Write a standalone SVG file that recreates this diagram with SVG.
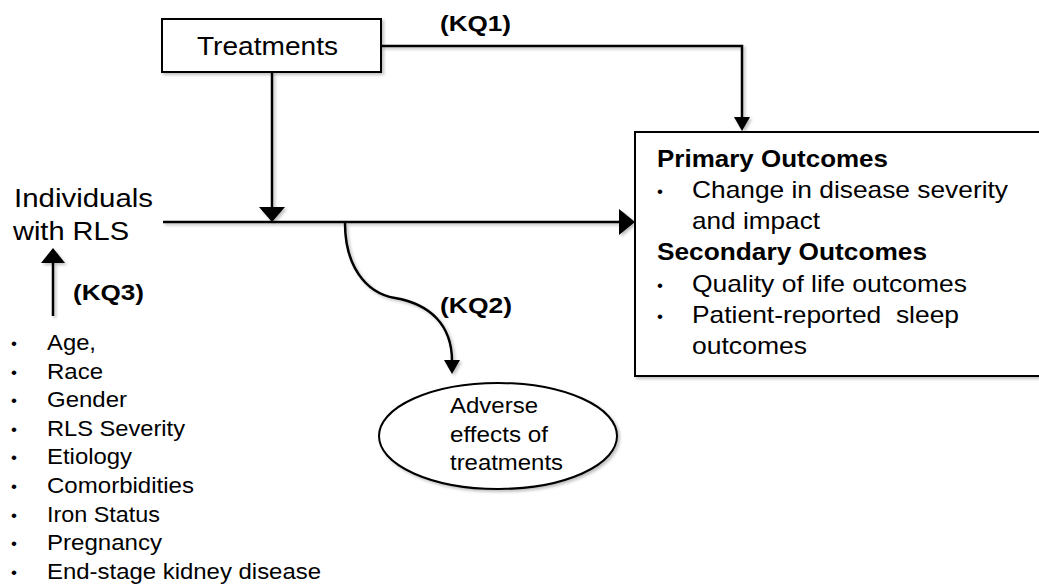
<svg xmlns="http://www.w3.org/2000/svg" width="1039" height="586" viewBox="0 0 1039 586">
  <defs>
    <filter id="sh" x="-10%" y="-10%" width="130%" height="140%">
      <feDropShadow dx="2" dy="2" stdDeviation="1.5" flood-color="#000" flood-opacity="0.25"/>
    </filter>
  </defs>
  <style>
    text { font-family: "Liberation Sans", Arial, sans-serif; fill: #000; white-space: pre; }
    .b { font-weight: bold; }
    .box { fill: #fff; stroke: #000; stroke-width: 2; }
    .ln { fill: none; stroke: #000; stroke-width: 2.5; }
    .ah { fill: #000; stroke: none; }
    .t26 { font-size: 26px; }
    .t25 { font-size: 26px; }
    .t23 { font-size: 24px; }
    .t22 { font-size: 22px; }
    .t21 { font-size: 22px; }
    .dot { font-size: 17px; }
  </style>
  <rect width="1039" height="586" fill="#fff"/>

  <g id="connectors" filter="url(#sh)">
    <path class="ln" d="M381,46 H742 V118"/>
    <polygon class="ah" points="742,131 734,117 750,117"/>
    <path class="ln" d="M272,72 V209"/>
    <polygon class="ah" points="272,222 259,207 285,207"/>
    <path class="ln" d="M163,222 H621"/>
    <polygon class="ah" points="635,222 619,209 619,235"/>
    <path class="ln" d="M53,316 V262"/>
    <polygon class="ah" points="53,248 41,263 65,263"/>
    <path class="ln" d="M345,223 C345,265 365,293 395,298 C430,304 452,325 452,361"/>
    <polygon class="ah" points="452,374 444,360 460,360"/>
  </g>

  <g id="labels">
    <text class="t22 b" x="440" y="31" textLength="71" lengthAdjust="spacingAndGlyphs">(KQ1)</text>
    <text class="t22 b" x="73" y="300" textLength="71" lengthAdjust="spacingAndGlyphs">(KQ3)</text>
    <text class="t22 b" x="440" y="313" textLength="72" lengthAdjust="spacingAndGlyphs">(KQ2)</text>
  </g>

  <g id="treatments">
    <rect class="box" x="162" y="19" width="219" height="53" filter="url(#sh)"/>
    <text class="t25" x="197" y="55" textLength="141" lengthAdjust="spacingAndGlyphs">Treatments</text>
  </g>

  <g id="individuals">
    <text class="t26" x="14" y="207" textLength="139" lengthAdjust="spacingAndGlyphs">Individuals</text>
    <text class="t26" x="13" y="240" textLength="116" lengthAdjust="spacingAndGlyphs">with RLS</text>
  </g>

  <g id="factors" class="t21">
    <text class="dot" x="11" y="349">•</text><text x="47" y="350" textLength="49" lengthAdjust="spacingAndGlyphs">Age,</text>
    <text class="dot" x="11" y="378">•</text><text x="47" y="379" textLength="56" lengthAdjust="spacingAndGlyphs">Race</text>
    <text class="dot" x="11" y="406">•</text><text x="47" y="407" textLength="80" lengthAdjust="spacingAndGlyphs">Gender</text>
    <text class="dot" x="11" y="435">•</text><text x="47" y="436" textLength="138" lengthAdjust="spacingAndGlyphs">RLS Severity</text>
    <text class="dot" x="11" y="463">•</text><text x="47" y="464" textLength="85" lengthAdjust="spacingAndGlyphs">Etiology</text>
    <text class="dot" x="11" y="492">•</text><text x="47" y="493" textLength="147" lengthAdjust="spacingAndGlyphs">Comorbidities</text>
    <text class="dot" x="11" y="521">•</text><text x="47" y="522" textLength="113" lengthAdjust="spacingAndGlyphs">Iron Status</text>
    <text class="dot" x="11" y="549">•</text><text x="47" y="550" textLength="115" lengthAdjust="spacingAndGlyphs">Pregnancy</text>
    <text class="dot" x="11" y="578">•</text><text x="47" y="579" textLength="274" lengthAdjust="spacingAndGlyphs">End-stage kidney disease</text>
  </g>

  <g id="outcomes">
    <rect class="box" x="635" y="132" width="420" height="244" filter="url(#sh)"/>
    <g class="t23">
      <text class="b" x="657" y="167" textLength="231" lengthAdjust="spacingAndGlyphs">Primary Outcomes</text>
      <text class="dot" x="657" y="197">•</text>
      <text x="692" y="198" textLength="316" lengthAdjust="spacingAndGlyphs">Change in disease severity</text>
      <text x="692" y="229" textLength="128" lengthAdjust="spacingAndGlyphs">and impact</text>
      <text class="b" x="657" y="260" textLength="270" lengthAdjust="spacingAndGlyphs">Secondary Outcomes</text>
      <text class="dot" x="657" y="291">•</text>
      <text x="692" y="292" textLength="275" lengthAdjust="spacingAndGlyphs">Quality of life outcomes</text>
      <text class="dot" x="657" y="322">•</text>
      <text x="692" y="323" textLength="267" lengthAdjust="spacingAndGlyphs">Patient-reported  sleep</text>
      <text x="692" y="354" textLength="115" lengthAdjust="spacingAndGlyphs">outcomes</text>
    </g>
  </g>

  <g id="adverse">
    <ellipse class="box" cx="498" cy="436" rx="119" ry="53" filter="url(#sh)"/>
    <g class="t21">
      <text x="450" y="413" textLength="88" lengthAdjust="spacingAndGlyphs">Adverse</text>
      <text x="450" y="442" textLength="98" lengthAdjust="spacingAndGlyphs">effects of</text>
      <text x="450" y="470" textLength="113" lengthAdjust="spacingAndGlyphs">treatments</text>
    </g>
  </g>
</svg>
